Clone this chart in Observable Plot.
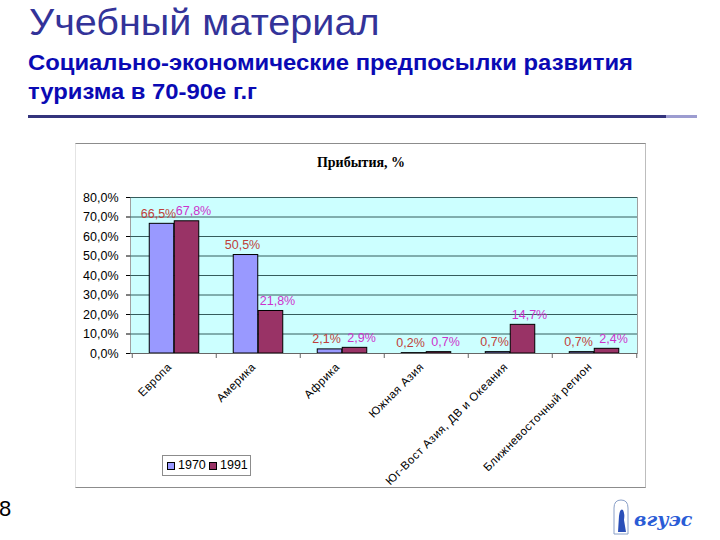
<!DOCTYPE html>
<html>
<head>
<meta charset="utf-8">
<script src="https://cdn.jsdelivr.net/npm/d3@7"></script>
<script src="https://cdn.jsdelivr.net/npm/@observablehq/plot@0.6"></script>
<style>
  html, body { margin: 0; padding: 0; background: #fff; }
  #page { position: relative; width: 720px; height: 540px; overflow: hidden; font-family: "Liberation Sans", Arial, sans-serif; }
  .abs { position: absolute; }
  #title { left: 29px; top: 3px; font-size: 37.5px; line-height: 38px; color: #333399; white-space: nowrap; transform: scaleX(1.055); transform-origin: left top; }
  #subtitle { left: 28px; top: 49px; font-size: 22px; line-height: 28.5px; font-weight: bold; color: #0a0ab4; white-space: nowrap; transform: scaleX(1.083); transform-origin: left top; }
  #rule1 { left: 28px; top: 115px; width: 638px; height: 3px; background: #34347c; }
  #rule2 { left: 666px; top: 115px; width: 31px; height: 3px; background: #9c9cd0; }
  #chartbox { left: 75px; top: 143px; width: 569px; height: 343px; border-top: 1px solid #8c8c8c; border-right: 1px solid #bdbdbd; border-bottom: 1px solid #8c8c8c; border-left: 1px solid #e4e4e4; }
  #chart { left: 75px; top: 143px; }
  #charttitle { left: 75px; top: 155px; width: 572px; text-align: center; font-family: "Liberation Serif", "Times New Roman", serif; font-weight: bold; font-size: 14px; line-height: 16px; color: #000; }
  #legend { left: 162px; top: 455px; width: 87px; height: 19px; border: 1px solid #8c8c8c; background: #fff; font-size: 12.5px; }
  .sw { position: absolute; top: 6px; width: 6px; height: 6px; border: 1px solid #000; }
  .lt { position: absolute; top: 2px; line-height: 14px; color: #000; }
  #pagenum { left: -1px; top: 497px; font-size: 22px; line-height: 24px; color: #000; }
  #logo { left: 612px; top: 498px; }
</style>
</head>
<body>
<div id="page">
  <div id="title" class="abs">Учебный материал</div>
  <div id="subtitle" class="abs">Социально-экономические предпосылки развития<br>туризма в 70-90е г.г</div>
  <div id="rule1" class="abs"></div>
  <div id="rule2" class="abs"></div>
  <div id="chartbox" class="abs"></div>
  <div id="chart" class="abs"></div>
  <div id="charttitle" class="abs">Прибытия, %</div>
  <div id="legend" class="abs"></div>
  <div id="pagenum" class="abs">8</div>
  <div id="logo" class="abs">
    <svg width="100" height="40">
      <path d="M2,36 L2,10 Q2,2 9,2 Q16,2 16,10 L16,36 Z" fill="#fff" stroke="#8aa0c8" stroke-width="1"/>
      <path d="M6,34 L7,18 Q8,10 11,12 Q13,16 12,22 L14,34 Z" fill="#2a4fb8"/>
      <text x="22" y="28" font-family="DejaVu Serif, serif" font-style="italic" font-weight="bold" font-size="19" fill="#2a5cd6">вгуэс</text>
    </svg>
  </div>
</div>
<script>
const categories = ["Европа", "Америка", "Африка", "Южная Азия", "Юг-Вост Азия, ДВ и Океания", "Ближневосточный регион"];
const seriesNames = ["1970", "1991"];
const values1970 = [66.5, 50.5, 2.1, 0.2, 0.7, 0.7];
const values1991 = [67.8, 21.8, 2.9, 0.7, 14.7, 2.4];
const yTicks = [0, 10, 20, 30, 40, 50, 60, 70, 80];
const colors = ["#9999ff", "#993366"];
const labelColors = ["#bf3f3a", "#cc33cc"];

const rows1970 = categories.map((c, i) => ({category: c, value: values1970[i]}));
const rows1991 = categories.map((c, i) => ({category: c, value: values1991[i]}));

const fmtTick = d => d.toFixed(1).replace(".", ",") + "%";
const fmtVal = d => d.value.toFixed(1).replace(".", ",") + "%";

const W = 570, H = 344, mL = 55, mT = 54, mR = 8, mB = 134;
const innerH = H - mT - mB;
const band = (W - mL - mR) / categories.length;
const barW = 25;
const edge = band / 2 - barW;

const plot = Plot.plot({
  width: W, height: H,
  marginLeft: mL, marginTop: mT, marginRight: mR, marginBottom: mB,
  style: {fontFamily: "'Liberation Sans', Arial, sans-serif", fontSize: "12.5px", background: "transparent", overflow: "visible", color: "#000"},
  x: {domain: categories, padding: 0, axis: null},
  y: {domain: [0, 80], ticks: yTicks, tickFormat: fmtTick, tickSize: 4, tickPadding: 8, label: null, line: false},
  marks: [
    Plot.frame({fill: "#ccffff", stroke: "#a0a0a0"}),
    Plot.ruleY(yTicks.filter(d => d > 0), {y: d => d, stroke: "#355c5c", strokeWidth: 1}),
    Plot.barY(rows1970, {x: "category", y: "value", fill: colors[0], stroke: "#000", strokeWidth: 1, insetLeft: edge, insetRight: band / 2}),
    Plot.barY(rows1991, {x: "category", y: "value", fill: colors[1], stroke: "#000", strokeWidth: 1, insetLeft: band / 2, insetRight: edge}),
    Plot.ruleX([0], {frameAnchor: "left", stroke: "#666"}),
    Plot.ruleY([0], {stroke: "#666"}),
    Plot.ruleX(categories, {x: d => d, dx: -band / 2, insetTop: innerH, insetBottom: -5, stroke: "#666"}),
    Plot.ruleX([categories[categories.length - 1]], {x: d => d, dx: band / 2, insetTop: innerH, insetBottom: -5, stroke: "#666"}),
    Plot.text(rows1970, {x: "category", y: "value", text: fmtVal, dx: -16, dy: -10, fill: labelColors[0], fontFamily: "'Liberation Sans', Arial, sans-serif", fontSize: 12.5, style: "letter-spacing:0.3px"}),
    Plot.text(rows1991, {x: "category", y: "value", text: fmtVal, dx: 19, dy: -10, fill: labelColors[1], fontFamily: "'Liberation Sans', Arial, sans-serif", fontSize: 12.5}),
    Plot.text(categories, {x: d => d, frameAnchor: "bottom", text: d => d, rotate: -45, textAnchor: "end", dy: 14, dx: -2, fill: "#000", fontSize: 11.5})
  ]
});
document.getElementById("chart").appendChild(plot);

plot.querySelectorAll("text").forEach(t => {
  if (categories.includes(t.textContent)) t.style.letterSpacing = "0.5px";
});

// legend
const legend = document.getElementById("legend");
const pos = [{sw: 4, tx: 15}, {sw: 46, tx: 57}];
seriesNames.forEach((s, i) => {
  const sw = document.createElement("div");
  sw.className = "sw";
  sw.style.left = pos[i].sw + "px";
  sw.style.background = colors[i];
  legend.appendChild(sw);
  const tx = document.createElement("div");
  tx.className = "lt";
  tx.style.left = pos[i].tx + "px";
  tx.textContent = s;
  legend.appendChild(tx);
});
</script>
</body>
</html>
